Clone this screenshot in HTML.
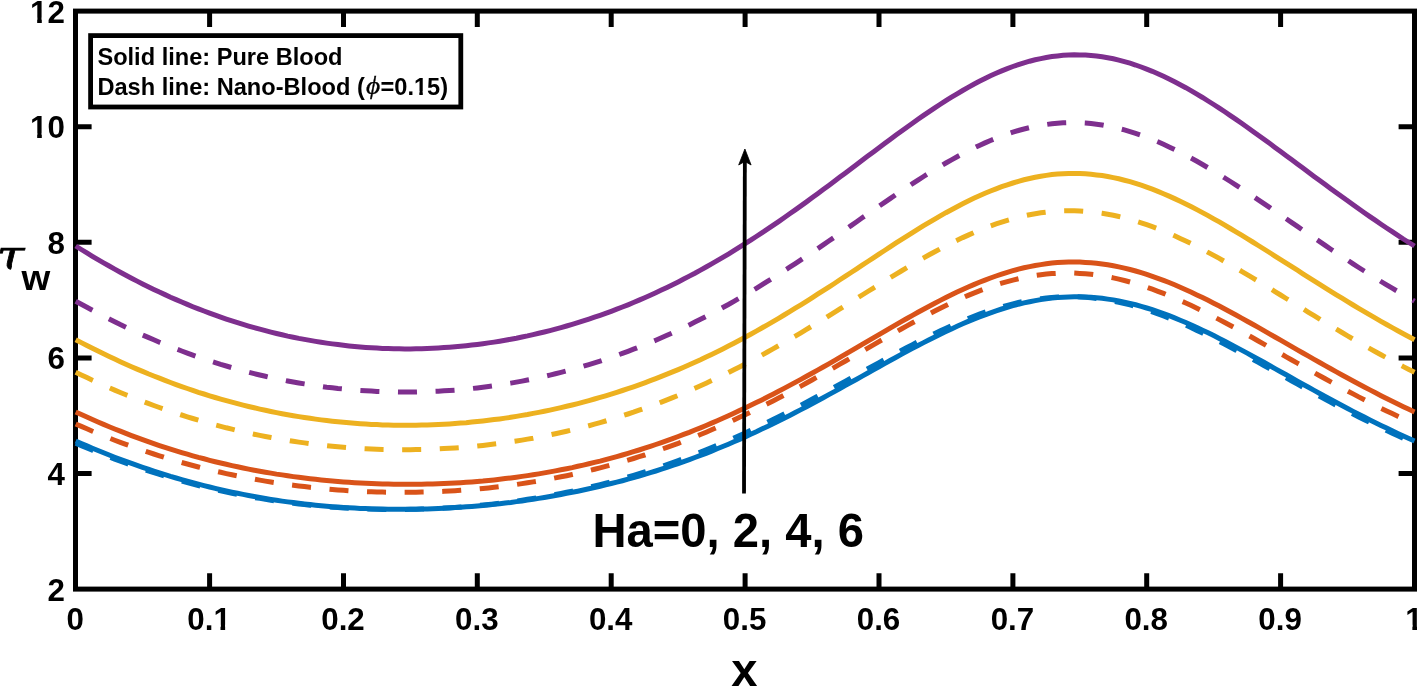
<!DOCTYPE html>
<html><head><meta charset="utf-8"><title>Wall shear stress</title>
<style>
html,body{margin:0;padding:0;background:#fff;}
svg{display:block;}
text{font-family:"Liberation Sans",Arial,sans-serif;font-weight:bold;fill:#000;}
.tk{font-size:31.3px;}
.lg{font-size:23.6px;}
.big{font-size:47.2px;}
.ph{font-family:"Liberation Serif",serif;font-style:italic;font-weight:normal;font-size:26px;stroke:#000;stroke-width:0.35px;}
.mi{font-family:"DejaVu Serif","Liberation Serif",serif;font-style:italic;font-weight:normal;}
</style></head><body>
<svg width="1418" height="686" viewBox="0 0 1418 686">
<rect x="0" y="0" width="1418" height="686" fill="#fff"/>
<rect x="75.5" y="11.1" width="1339.0" height="578.0" fill="none" stroke="#000" stroke-width="5"/>
<path d="M209.6 589.1 V573.2 M209.6 11.1 V27.0 M343.5 589.1 V573.2 M343.5 11.1 V27.0 M477.3 589.1 V573.2 M477.3 11.1 V27.0 M611.2 589.1 V573.2 M611.2 11.1 V27.0 M745.1 589.1 V573.2 M745.1 11.1 V27.0 M879.0 589.1 V573.2 M879.0 11.1 V27.0 M1012.9 589.1 V573.2 M1012.9 11.1 V27.0 M1146.7 589.1 V573.2 M1146.7 11.1 V27.0 M1280.6 589.1 V573.2 M1280.6 11.1 V27.0 M75.7 473.5 H91.6 M1414.5 473.5 H1398.6 M75.7 357.9 H91.6 M1414.5 357.9 H1398.6 M75.7 242.3 H91.6 M1414.5 242.3 H1398.6 M75.7 126.7 H91.6 M1414.5 126.7 H1398.6" fill="none" stroke="#000" stroke-width="5"/>
<text class="tk" transform="translate(64.9 600.5) scale(1 1)" text-anchor="end">2</text>
<text class="tk" transform="translate(64.9 484.9) scale(1 1)" text-anchor="end">4</text>
<text class="tk" transform="translate(64.9 369.3) scale(1 1)" text-anchor="end">6</text>
<text class="tk" transform="translate(64.9 253.7) scale(1 1)" text-anchor="end">8</text>
<text class="tk" transform="translate(64.9 138.1) scale(1 1)" text-anchor="end">10</text>
<path d="M31.03 133.09 H37.17 V139.04 H31.03 Z M41.80 133.09 H47.62 V139.04 H41.80 Z" fill="#fff"/>
<text class="tk" transform="translate(64.9 22.5) scale(1 1)" text-anchor="end">12</text>
<path d="M31.03 17.49 H37.17 V23.44 H31.03 Z M41.80 17.49 H47.62 V23.44 H41.80 Z" fill="#fff"/>
<text class="tk" transform="translate(75.2 629.7) scale(1 1)" text-anchor="middle">0</text>
<text class="tk" transform="translate(209.1 629.7) scale(1 1)" text-anchor="middle">0.1</text>
<path d="M214.37 624.69 H220.50 V630.64 H214.37 Z M225.14 624.69 H230.96 V630.64 H225.14 Z" fill="#fff"/>
<text class="tk" transform="translate(343.0 629.7) scale(1 1)" text-anchor="middle">0.2</text>
<text class="tk" transform="translate(476.8 629.7) scale(1 1)" text-anchor="middle">0.3</text>
<text class="tk" transform="translate(610.7 629.7) scale(1 1)" text-anchor="middle">0.4</text>
<text class="tk" transform="translate(744.6 629.7) scale(1 1)" text-anchor="middle">0.5</text>
<text class="tk" transform="translate(878.5 629.7) scale(1 1)" text-anchor="middle">0.6</text>
<text class="tk" transform="translate(1012.4 629.7) scale(1 1)" text-anchor="middle">0.7</text>
<text class="tk" transform="translate(1146.2 629.7) scale(1 1)" text-anchor="middle">0.8</text>
<text class="tk" transform="translate(1280.1 629.7) scale(1 1)" text-anchor="middle">0.9</text>
<text class="tk" transform="translate(1414.0 629.7) scale(1 1)" text-anchor="middle">1</text>
<path d="M1406.24 624.69 H1412.37 V630.64 H1406.24 Z M1417.00 624.69 H1422.83 V630.64 H1417.00 Z" fill="#fff"/>
<path d="M75.7 441.0 L81.3 443.5 L86.9 445.9 L92.4 448.2 L98.0 450.5 L103.6 452.8 L109.2 455.0 L114.7 457.2 L120.3 459.3 L125.9 461.4 L131.5 463.4 L137.1 465.4 L142.6 467.3 L148.2 469.2 L153.8 471.1 L159.4 472.9 L165.0 474.6 L170.5 476.4 L176.1 478.0 L181.7 479.6 L187.3 481.2 L192.8 482.7 L198.4 484.2 L204.0 485.6 L209.6 487.0 L215.2 488.4 L220.7 489.7 L226.3 490.9 L231.9 492.1 L237.5 493.3 L243.1 494.4 L248.6 495.5 L254.2 496.5 L259.8 497.5 L265.4 498.5 L270.9 499.4 L276.5 500.3 L282.1 501.1 L287.7 501.9 L293.3 502.6 L298.8 503.3 L304.4 504.0 L310.0 504.6 L315.6 505.2 L321.1 505.7 L326.7 506.2 L332.3 506.7 L337.9 507.1 L343.5 507.5 L349.0 507.8 L354.6 508.1 L360.2 508.4 L365.8 508.6 L371.4 508.9 L376.9 509.0 L382.5 509.1 L388.1 509.2 L393.7 509.3 L399.2 509.3 L404.8 509.3 L410.4 509.3 L416.0 509.2 L421.6 509.1 L427.1 508.9 L432.7 508.7 L438.3 508.5 L443.9 508.2 L449.4 507.9 L455.0 507.6 L460.6 507.2 L466.2 506.8 L471.8 506.4 L477.3 505.9 L482.9 505.4 L488.5 504.9 L494.1 504.3 L499.7 503.7 L505.2 503.0 L510.8 502.4 L516.4 501.6 L522.0 500.9 L527.5 500.1 L533.1 499.2 L538.7 498.4 L544.3 497.5 L549.9 496.5 L555.4 495.5 L561.0 494.5 L566.6 493.4 L572.2 492.3 L577.8 491.2 L583.3 490.0 L588.9 488.8 L594.5 487.6 L600.1 486.3 L605.6 484.9 L611.2 483.5 L616.8 482.1 L622.4 480.7 L628.0 479.2 L633.5 477.6 L639.1 476.0 L644.7 474.4 L650.3 472.7 L655.8 471.0 L661.4 469.2 L667.0 467.4 L672.6 465.5 L678.2 463.6 L683.7 461.6 L689.3 459.6 L694.9 457.5 L700.5 455.4 L706.1 453.3 L711.6 451.1 L717.2 448.8 L722.8 446.5 L728.4 444.2 L733.9 441.8 L739.5 439.4 L745.1 436.9 L750.7 434.3 L756.3 431.8 L761.8 429.1 L767.4 426.5 L773.0 423.7 L778.6 421.0 L784.1 418.2 L789.7 415.4 L795.3 412.5 L800.9 409.6 L806.5 406.7 L812.0 403.7 L817.6 400.7 L823.2 397.7 L828.8 394.6 L834.4 391.6 L839.9 388.5 L845.5 385.4 L851.1 382.3 L856.7 379.2 L862.2 376.1 L867.8 373.0 L873.4 369.8 L879.0 366.7 L884.6 363.6 L890.1 360.5 L895.7 357.5 L901.3 354.4 L906.9 351.4 L912.5 348.4 L918.0 345.5 L923.6 342.6 L929.2 339.7 L934.8 336.9 L940.3 334.2 L945.9 331.5 L951.5 328.9 L957.1 326.3 L962.7 323.8 L968.2 321.4 L973.8 319.1 L979.4 316.9 L985.0 314.8 L990.5 312.8 L996.1 310.8 L1001.7 309.0 L1007.3 307.3 L1012.9 305.7 L1018.4 304.2 L1024.0 302.9 L1029.6 301.7 L1035.2 300.6 L1040.8 299.6 L1046.3 298.8 L1051.9 298.1 L1057.5 297.6 L1063.1 297.2 L1068.6 296.9 L1074.2 296.8 L1079.8 296.8 L1085.4 297.0 L1091.0 297.3 L1096.5 297.7 L1102.1 298.3 L1107.7 299.1 L1113.3 299.9 L1118.8 301.0 L1124.4 302.1 L1130.0 303.4 L1135.6 304.8 L1141.2 306.3 L1146.7 308.0 L1152.3 309.7 L1157.9 311.6 L1163.5 313.6 L1169.1 315.7 L1174.6 317.9 L1180.2 320.2 L1185.8 322.5 L1191.4 325.0 L1196.9 327.5 L1202.5 330.2 L1208.1 332.8 L1213.7 335.6 L1219.3 338.4 L1224.8 341.3 L1230.4 344.2 L1236.0 347.1 L1241.6 350.1 L1247.2 353.1 L1252.7 356.2 L1258.3 359.2 L1263.9 362.3 L1269.5 365.5 L1275.0 368.6 L1280.6 371.7 L1286.2 374.8 L1291.8 378.0 L1297.4 381.1 L1302.9 384.2 L1308.5 387.3 L1314.1 390.4 L1319.7 393.5 L1325.2 396.5 L1330.8 399.5 L1336.4 402.5 L1342.0 405.5 L1347.6 408.5 L1353.1 411.4 L1358.7 414.3 L1364.3 417.1 L1369.9 419.9 L1375.5 422.7 L1381.0 425.4 L1386.6 428.1 L1392.2 430.8 L1397.8 433.4 L1403.3 436.0 L1408.9 438.5 L1414.5 441.0" fill="none" stroke="#0072BD" stroke-width="5"/>
<path d="M75.7 443.2 L81.3 445.6 L86.9 448.0 L92.4 450.3 L98.0 452.5 L103.6 454.8 L109.2 456.9 L114.7 459.1 L120.3 461.1 L125.9 463.2 L131.5 465.2 L137.1 467.1 L142.6 469.0 L148.2 470.9 L153.8 472.7 L159.4 474.4 L165.0 476.1 L170.5 477.8 L176.1 479.4 L181.7 481.0 L187.3 482.6 L192.8 484.0 L198.4 485.5 L204.0 486.9 L209.6 488.2 L215.2 489.5 L220.7 490.8 L226.3 492.0 L231.9 493.2 L237.5 494.3 L243.1 495.4 L248.6 496.5 L254.2 497.5 L259.8 498.4 L265.4 499.3 L270.9 500.2 L276.5 501.1 L282.1 501.8 L287.7 502.6 L293.3 503.3 L298.8 504.0 L304.4 504.6 L310.0 505.2 L315.6 505.7 L321.1 506.3 L326.7 506.7 L332.3 507.2 L337.9 507.6 L343.5 507.9 L349.0 508.2 L354.6 508.5 L360.2 508.8 L365.8 509.0 L371.4 509.1 L376.9 509.3 L382.5 509.4 L388.1 509.4 L393.7 509.5 L399.2 509.5 L404.8 509.4 L410.4 509.3 L416.0 509.2 L421.6 509.1 L427.1 508.9 L432.7 508.7 L438.3 508.4 L443.9 508.1 L449.4 507.8 L455.0 507.4 L460.6 507.0 L466.2 506.6 L471.8 506.1 L477.3 505.6 L482.9 505.1 L488.5 504.5 L494.1 503.9 L499.7 503.2 L505.2 502.5 L510.8 501.8 L516.4 501.0 L522.0 500.2 L527.5 499.3 L533.1 498.4 L538.7 497.5 L544.3 496.5 L549.9 495.5 L555.4 494.5 L561.0 493.4 L566.6 492.2 L572.2 491.1 L577.8 489.9 L583.3 488.6 L588.9 487.3 L594.5 486.0 L600.1 484.6 L605.6 483.2 L611.2 481.7 L616.8 480.2 L622.4 478.6 L628.0 477.0 L633.5 475.4 L639.1 473.7 L644.7 471.9 L650.3 470.2 L655.8 468.3 L661.4 466.5 L667.0 464.5 L672.6 462.6 L678.2 460.6 L683.7 458.5 L689.3 456.4 L694.9 454.3 L700.5 452.1 L706.1 449.8 L711.6 447.5 L717.2 445.2 L722.8 442.8 L728.4 440.4 L733.9 438.0 L739.5 435.5 L745.1 432.9 L750.7 430.3 L756.3 427.7 L761.8 425.0 L767.4 422.3 L773.0 419.5 L778.6 416.7 L784.1 413.9 L789.7 411.1 L795.3 408.2 L800.9 405.3 L806.5 402.3 L812.0 399.3 L817.6 396.3 L823.2 393.3 L828.8 390.3 L834.4 387.2 L839.9 384.2 L845.5 381.1 L851.1 378.0 L856.7 374.9 L862.2 371.8 L867.8 368.7 L873.4 365.6 L879.0 362.6 L884.6 359.5 L890.1 356.5 L895.7 353.5 L901.3 350.5 L906.9 347.5 L912.5 344.6 L918.0 341.7 L923.6 338.9 L929.2 336.1 L934.8 333.4 L940.3 330.7 L945.9 328.2 L951.5 325.6 L957.1 323.2 L962.7 320.8 L968.2 318.5 L973.8 316.3 L979.4 314.2 L985.0 312.2 L990.5 310.3 L996.1 308.5 L1001.7 306.9 L1007.3 305.3 L1012.9 303.9 L1018.4 302.5 L1024.0 301.3 L1029.6 300.3 L1035.2 299.4 L1040.8 298.6 L1046.3 297.9 L1051.9 297.4 L1057.5 297.0 L1063.1 296.8 L1068.6 296.7 L1074.2 296.7 L1079.8 296.9 L1085.4 297.3 L1091.0 297.8 L1096.5 298.4 L1102.1 299.1 L1107.7 300.0 L1113.3 301.1 L1118.8 302.2 L1124.4 303.5 L1130.0 304.9 L1135.6 306.5 L1141.2 308.1 L1146.7 309.9 L1152.3 311.8 L1157.9 313.8 L1163.5 315.9 L1169.1 318.1 L1174.6 320.4 L1180.2 322.8 L1185.8 325.2 L1191.4 327.7 L1196.9 330.4 L1202.5 333.0 L1208.1 335.8 L1213.7 338.6 L1219.3 341.4 L1224.8 344.3 L1230.4 347.3 L1236.0 350.2 L1241.6 353.2 L1247.2 356.3 L1252.7 359.3 L1258.3 362.4 L1263.9 365.5 L1269.5 368.6 L1275.0 371.7 L1280.6 374.8 L1286.2 377.9 L1291.8 381.0 L1297.4 384.1 L1302.9 387.2 L1308.5 390.3 L1314.1 393.4 L1319.7 396.4 L1325.2 399.4 L1330.8 402.4 L1336.4 405.4 L1342.0 408.3 L1347.6 411.2 L1353.1 414.1 L1358.7 416.9 L1364.3 419.7 L1369.9 422.5 L1375.5 425.2 L1381.0 427.9 L1386.6 430.6 L1392.2 433.2 L1397.8 435.8 L1403.3 438.3 L1408.9 440.8 L1414.5 443.2" fill="none" stroke="#0072BD" stroke-width="5" stroke-dasharray="19.03 18.58"/>
<path d="M75.7 411.9 L81.3 414.5 L86.9 417.0 L92.4 419.5 L98.0 422.0 L103.6 424.4 L109.2 426.7 L114.7 429.0 L120.3 431.2 L125.9 433.4 L131.5 435.6 L137.1 437.7 L142.6 439.7 L148.2 441.7 L153.8 443.7 L159.4 445.6 L165.0 447.4 L170.5 449.2 L176.1 450.9 L181.7 452.6 L187.3 454.2 L192.8 455.8 L198.4 457.4 L204.0 458.8 L209.6 460.3 L215.2 461.7 L220.7 463.0 L226.3 464.3 L231.9 465.6 L237.5 466.8 L243.1 468.0 L248.6 469.1 L254.2 470.2 L259.8 471.2 L265.4 472.2 L270.9 473.1 L276.5 474.1 L282.1 474.9 L287.7 475.8 L293.3 476.6 L298.8 477.3 L304.4 478.0 L310.0 478.7 L315.6 479.3 L321.1 479.9 L326.7 480.5 L332.3 481.0 L337.9 481.5 L343.5 481.9 L349.0 482.3 L354.6 482.7 L360.2 483.0 L365.8 483.3 L371.4 483.6 L376.9 483.8 L382.5 484.0 L388.1 484.1 L393.7 484.2 L399.2 484.3 L404.8 484.3 L410.4 484.3 L416.0 484.3 L421.6 484.2 L427.1 484.1 L432.7 484.0 L438.3 483.8 L443.9 483.6 L449.4 483.3 L455.0 483.0 L460.6 482.7 L466.2 482.3 L471.8 481.9 L477.3 481.4 L482.9 481.0 L488.5 480.4 L494.1 479.9 L499.7 479.3 L505.2 478.6 L510.8 477.9 L516.4 477.2 L522.0 476.4 L527.5 475.6 L533.1 474.8 L538.7 473.9 L544.3 472.9 L549.9 471.9 L555.4 470.9 L561.0 469.8 L566.6 468.7 L572.2 467.6 L577.8 466.3 L583.3 465.1 L588.9 463.8 L594.5 462.4 L600.1 461.1 L605.6 459.6 L611.2 458.1 L616.8 456.6 L622.4 455.0 L628.0 453.4 L633.5 451.7 L639.1 450.0 L644.7 448.2 L650.3 446.4 L655.8 444.5 L661.4 442.6 L667.0 440.6 L672.6 438.6 L678.2 436.5 L683.7 434.4 L689.3 432.3 L694.9 430.0 L700.5 427.8 L706.1 425.5 L711.6 423.1 L717.2 420.7 L722.8 418.3 L728.4 415.8 L733.9 413.2 L739.5 410.6 L745.1 408.0 L750.7 405.3 L756.3 402.6 L761.8 399.9 L767.4 397.1 L773.0 394.2 L778.6 391.3 L784.1 388.4 L789.7 385.4 L795.3 382.4 L800.9 379.4 L806.5 376.3 L812.0 373.2 L817.6 370.1 L823.2 367.0 L828.8 363.8 L834.4 360.6 L839.9 357.4 L845.5 354.1 L851.1 350.9 L856.7 347.6 L862.2 344.4 L867.8 341.1 L873.4 337.8 L879.0 334.6 L884.6 331.3 L890.1 328.1 L895.7 324.9 L901.3 321.7 L906.9 318.5 L912.5 315.4 L918.0 312.3 L923.6 309.2 L929.2 306.2 L934.8 303.3 L940.3 300.4 L945.9 297.6 L951.5 294.8 L957.1 292.1 L962.7 289.5 L968.2 287.0 L973.8 284.6 L979.4 282.3 L985.0 280.1 L990.5 278.0 L996.1 276.0 L1001.7 274.1 L1007.3 272.3 L1012.9 270.7 L1018.4 269.2 L1024.0 267.8 L1029.6 266.6 L1035.2 265.5 L1040.8 264.6 L1046.3 263.8 L1051.9 263.1 L1057.5 262.6 L1063.1 262.3 L1068.6 262.1 L1074.2 262.0 L1079.8 262.1 L1085.4 262.4 L1091.0 262.8 L1096.5 263.3 L1102.1 264.0 L1107.7 264.8 L1113.3 265.8 L1118.8 266.9 L1124.4 268.1 L1130.0 269.5 L1135.6 271.0 L1141.2 272.7 L1146.7 274.4 L1152.3 276.3 L1157.9 278.3 L1163.5 280.4 L1169.1 282.5 L1174.6 284.8 L1180.2 287.2 L1185.8 289.7 L1191.4 292.2 L1196.9 294.9 L1202.5 297.6 L1208.1 300.3 L1213.7 303.2 L1219.3 306.0 L1224.8 309.0 L1230.4 312.0 L1236.0 315.0 L1241.6 318.1 L1247.2 321.2 L1252.7 324.3 L1258.3 327.4 L1263.9 330.6 L1269.5 333.8 L1275.0 337.0 L1280.6 340.2 L1286.2 343.4 L1291.8 346.6 L1297.4 349.8 L1302.9 353.0 L1308.5 356.2 L1314.1 359.4 L1319.7 362.5 L1325.2 365.7 L1330.8 368.8 L1336.4 371.9 L1342.0 375.0 L1347.6 378.0 L1353.1 381.0 L1358.7 384.0 L1364.3 387.0 L1369.9 389.9 L1375.5 392.8 L1381.0 395.7 L1386.6 398.5 L1392.2 401.2 L1397.8 404.0 L1403.3 406.7 L1408.9 409.3 L1414.5 411.9" fill="none" stroke="#D95319" stroke-width="5"/>
<path d="M75.7 424.0 L81.3 426.4 L86.9 428.8 L92.4 431.2 L98.0 433.5 L103.6 435.8 L109.2 438.0 L114.7 440.2 L120.3 442.3 L125.9 444.4 L131.5 446.4 L137.1 448.4 L142.6 450.3 L148.2 452.2 L153.8 454.0 L159.4 455.8 L165.0 457.6 L170.5 459.2 L176.1 460.9 L181.7 462.5 L187.3 464.0 L192.8 465.5 L198.4 467.0 L204.0 468.4 L209.6 469.7 L215.2 471.1 L220.7 472.3 L226.3 473.6 L231.9 474.8 L237.5 475.9 L243.1 477.0 L248.6 478.1 L254.2 479.1 L259.8 480.1 L265.4 481.1 L270.9 482.0 L276.5 482.8 L282.1 483.7 L287.7 484.5 L293.3 485.2 L298.8 485.9 L304.4 486.6 L310.0 487.3 L315.6 487.9 L321.1 488.4 L326.7 488.9 L332.3 489.4 L337.9 489.9 L343.5 490.3 L349.0 490.7 L354.6 491.0 L360.2 491.3 L365.8 491.6 L371.4 491.8 L376.9 492.0 L382.5 492.1 L388.1 492.2 L393.7 492.3 L399.2 492.3 L404.8 492.3 L410.4 492.3 L416.0 492.2 L421.6 492.1 L427.1 492.0 L432.7 491.8 L438.3 491.6 L443.9 491.3 L449.4 491.0 L455.0 490.7 L460.6 490.3 L466.2 489.9 L471.8 489.5 L477.3 489.0 L482.9 488.4 L488.5 487.9 L494.1 487.3 L499.7 486.6 L505.2 485.9 L510.8 485.2 L516.4 484.5 L522.0 483.6 L527.5 482.8 L533.1 481.9 L538.7 481.0 L544.3 480.0 L549.9 479.0 L555.4 477.9 L561.0 476.8 L566.6 475.7 L572.2 474.5 L577.8 473.3 L583.3 472.0 L588.9 470.7 L594.5 469.3 L600.1 467.9 L605.6 466.4 L611.2 464.9 L616.8 463.4 L622.4 461.8 L628.0 460.2 L633.5 458.5 L639.1 456.7 L644.7 455.0 L650.3 453.1 L655.8 451.2 L661.4 449.3 L667.0 447.3 L672.6 445.3 L678.2 443.3 L683.7 441.1 L689.3 439.0 L694.9 436.8 L700.5 434.5 L706.1 432.2 L711.6 429.8 L717.2 427.4 L722.8 425.0 L728.4 422.5 L733.9 419.9 L739.5 417.3 L745.1 414.7 L750.7 412.0 L756.3 409.3 L761.8 406.5 L767.4 403.7 L773.0 400.9 L778.6 398.0 L784.1 395.1 L789.7 392.1 L795.3 389.1 L800.9 386.1 L806.5 383.0 L812.0 380.0 L817.6 376.8 L823.2 373.7 L828.8 370.6 L834.4 367.4 L839.9 364.2 L845.5 361.0 L851.1 357.8 L856.7 354.5 L862.2 351.3 L867.8 348.1 L873.4 344.9 L879.0 341.6 L884.6 338.4 L890.1 335.3 L895.7 332.1 L901.3 329.0 L906.9 325.9 L912.5 322.8 L918.0 319.8 L923.6 316.8 L929.2 313.9 L934.8 311.0 L940.3 308.2 L945.9 305.5 L951.5 302.8 L957.1 300.3 L962.7 297.8 L968.2 295.4 L973.8 293.1 L979.4 290.9 L985.0 288.8 L990.5 286.8 L996.1 284.9 L1001.7 283.2 L1007.3 281.6 L1012.9 280.1 L1018.4 278.8 L1024.0 277.5 L1029.6 276.5 L1035.2 275.5 L1040.8 274.7 L1046.3 274.1 L1051.9 273.6 L1057.5 273.3 L1063.1 273.1 L1068.6 273.0 L1074.2 273.1 L1079.8 273.4 L1085.4 273.8 L1091.0 274.3 L1096.5 275.0 L1102.1 275.8 L1107.7 276.8 L1113.3 277.9 L1118.8 279.1 L1124.4 280.5 L1130.0 282.0 L1135.6 283.6 L1141.2 285.4 L1146.7 287.2 L1152.3 289.2 L1157.9 291.3 L1163.5 293.4 L1169.1 295.7 L1174.6 298.0 L1180.2 300.5 L1185.8 303.0 L1191.4 305.6 L1196.9 308.3 L1202.5 311.0 L1208.1 313.8 L1213.7 316.7 L1219.3 319.6 L1224.8 322.5 L1230.4 325.5 L1236.0 328.5 L1241.6 331.6 L1247.2 334.7 L1252.7 337.8 L1258.3 341.0 L1263.9 344.1 L1269.5 347.3 L1275.0 350.4 L1280.6 353.6 L1286.2 356.8 L1291.8 360.0 L1297.4 363.2 L1302.9 366.3 L1308.5 369.5 L1314.1 372.6 L1319.7 375.7 L1325.2 378.8 L1330.8 381.9 L1336.4 384.9 L1342.0 388.0 L1347.6 391.0 L1353.1 393.9 L1358.7 396.9 L1364.3 399.7 L1369.9 402.6 L1375.5 405.4 L1381.0 408.2 L1386.6 410.9 L1392.2 413.6 L1397.8 416.3 L1403.3 418.9 L1408.9 421.5 L1414.5 424.0" fill="none" stroke="#D95319" stroke-width="5" stroke-dasharray="19.03 18.58"/>
<path d="M75.7 339.7 L81.3 342.6 L86.9 345.5 L92.4 348.3 L98.0 351.1 L103.6 353.8 L109.2 356.5 L114.7 359.1 L120.3 361.7 L125.9 364.2 L131.5 366.7 L137.1 369.1 L142.6 371.4 L148.2 373.8 L153.8 376.0 L159.4 378.2 L165.0 380.4 L170.5 382.5 L176.1 384.6 L181.7 386.6 L187.3 388.5 L192.8 390.4 L198.4 392.3 L204.0 394.0 L209.6 395.8 L215.2 397.5 L220.7 399.1 L226.3 400.7 L231.9 402.2 L237.5 403.7 L243.1 405.1 L248.6 406.5 L254.2 407.8 L259.8 409.1 L265.4 410.3 L270.9 411.5 L276.5 412.6 L282.1 413.7 L287.7 414.7 L293.3 415.7 L298.8 416.6 L304.4 417.5 L310.0 418.3 L315.6 419.1 L321.1 419.9 L326.7 420.6 L332.3 421.2 L337.9 421.8 L343.5 422.3 L349.0 422.8 L354.6 423.3 L360.2 423.7 L365.8 424.1 L371.4 424.4 L376.9 424.6 L382.5 424.9 L388.1 425.0 L393.7 425.2 L399.2 425.2 L404.8 425.3 L410.4 425.3 L416.0 425.2 L421.6 425.1 L427.1 425.0 L432.7 424.8 L438.3 424.5 L443.9 424.2 L449.4 423.9 L455.0 423.5 L460.6 423.1 L466.2 422.7 L471.8 422.1 L477.3 421.6 L482.9 421.0 L488.5 420.3 L494.1 419.6 L499.7 418.9 L505.2 418.1 L510.8 417.3 L516.4 416.4 L522.0 415.4 L527.5 414.5 L533.1 413.4 L538.7 412.4 L544.3 411.3 L549.9 410.1 L555.4 408.9 L561.0 407.6 L566.6 406.3 L572.2 405.0 L577.8 403.6 L583.3 402.1 L588.9 400.6 L594.5 399.0 L600.1 397.4 L605.6 395.8 L611.2 394.1 L616.8 392.3 L622.4 390.5 L628.0 388.7 L633.5 386.8 L639.1 384.8 L644.7 382.8 L650.3 380.7 L655.8 378.6 L661.4 376.4 L667.0 374.2 L672.6 371.9 L678.2 369.6 L683.7 367.2 L689.3 364.7 L694.9 362.2 L700.5 359.7 L706.1 357.0 L711.6 354.4 L717.2 351.7 L722.8 348.9 L728.4 346.1 L733.9 343.2 L739.5 340.2 L745.1 337.3 L750.7 334.2 L756.3 331.1 L761.8 328.0 L767.4 324.8 L773.0 321.6 L778.6 318.3 L784.1 315.0 L789.7 311.6 L795.3 308.2 L800.9 304.8 L806.5 301.3 L812.0 297.8 L817.6 294.2 L823.2 290.7 L828.8 287.1 L834.4 283.5 L839.9 279.8 L845.5 276.2 L851.1 272.5 L856.7 268.8 L862.2 265.2 L867.8 261.5 L873.4 257.8 L879.0 254.1 L884.6 250.5 L890.1 246.9 L895.7 243.2 L901.3 239.7 L906.9 236.1 L912.5 232.6 L918.0 229.2 L923.6 225.7 L929.2 222.4 L934.8 219.1 L940.3 215.9 L945.9 212.7 L951.5 209.7 L957.1 206.7 L962.7 203.8 L968.2 201.0 L973.8 198.3 L979.4 195.8 L985.0 193.3 L990.5 191.0 L996.1 188.8 L1001.7 186.7 L1007.3 184.8 L1012.9 183.0 L1018.4 181.3 L1024.0 179.8 L1029.6 178.5 L1035.2 177.3 L1040.8 176.2 L1046.3 175.4 L1051.9 174.6 L1057.5 174.1 L1063.1 173.7 L1068.6 173.5 L1074.2 173.4 L1079.8 173.5 L1085.4 173.8 L1091.0 174.3 L1096.5 174.9 L1102.1 175.6 L1107.7 176.5 L1113.3 177.6 L1118.8 178.8 L1124.4 180.2 L1130.0 181.7 L1135.6 183.4 L1141.2 185.2 L1146.7 187.1 L1152.3 189.2 L1157.9 191.4 L1163.5 193.7 L1169.1 196.1 L1174.6 198.6 L1180.2 201.2 L1185.8 203.9 L1191.4 206.7 L1196.9 209.6 L1202.5 212.6 L1208.1 215.6 L1213.7 218.8 L1219.3 221.9 L1224.8 225.2 L1230.4 228.5 L1236.0 231.8 L1241.6 235.2 L1247.2 238.6 L1252.7 242.0 L1258.3 245.5 L1263.9 249.0 L1269.5 252.5 L1275.0 256.1 L1280.6 259.6 L1286.2 263.1 L1291.8 266.7 L1297.4 270.2 L1302.9 273.8 L1308.5 277.3 L1314.1 280.8 L1319.7 284.3 L1325.2 287.8 L1330.8 291.3 L1336.4 294.8 L1342.0 298.2 L1347.6 301.6 L1353.1 305.0 L1358.7 308.3 L1364.3 311.6 L1369.9 314.9 L1375.5 318.1 L1381.0 321.3 L1386.6 324.5 L1392.2 327.6 L1397.8 330.7 L1403.3 333.7 L1408.9 336.7 L1414.5 339.7" fill="none" stroke="#EDB120" stroke-width="5"/>
<path d="M75.7 372.2 L81.3 374.9 L86.9 377.6 L92.4 380.2 L98.0 382.7 L103.6 385.2 L109.2 387.7 L114.7 390.1 L120.3 392.5 L125.9 394.8 L131.5 397.0 L137.1 399.2 L142.6 401.3 L148.2 403.4 L153.8 405.5 L159.4 407.5 L165.0 409.4 L170.5 411.4 L176.1 413.2 L181.7 415.0 L187.3 416.8 L192.8 418.5 L198.4 420.2 L204.0 421.8 L209.6 423.3 L215.2 424.9 L220.7 426.3 L226.3 427.8 L231.9 429.1 L237.5 430.5 L243.1 431.8 L248.6 433.0 L254.2 434.2 L259.8 435.4 L265.4 436.5 L270.9 437.5 L276.5 438.5 L282.1 439.5 L287.7 440.4 L293.3 441.3 L298.8 442.1 L304.4 442.9 L310.0 443.7 L315.6 444.4 L321.1 445.0 L326.7 445.6 L332.3 446.2 L337.9 446.7 L343.5 447.2 L349.0 447.7 L354.6 448.1 L360.2 448.4 L365.8 448.7 L371.4 449.0 L376.9 449.2 L382.5 449.4 L388.1 449.5 L393.7 449.6 L399.2 449.7 L404.8 449.7 L410.4 449.7 L416.0 449.6 L421.6 449.5 L427.1 449.4 L432.7 449.2 L438.3 448.9 L443.9 448.6 L449.4 448.3 L455.0 447.9 L460.6 447.5 L466.2 447.1 L471.8 446.6 L477.3 446.0 L482.9 445.4 L488.5 444.8 L494.1 444.1 L499.7 443.4 L505.2 442.7 L510.8 441.8 L516.4 441.0 L522.0 440.1 L527.5 439.1 L533.1 438.2 L538.7 437.1 L544.3 436.0 L549.9 434.9 L555.4 433.7 L561.0 432.5 L566.6 431.2 L572.2 429.9 L577.8 428.5 L583.3 427.1 L588.9 425.7 L594.5 424.2 L600.1 422.6 L605.6 421.0 L611.2 419.3 L616.8 417.6 L622.4 415.8 L628.0 414.0 L633.5 412.2 L639.1 410.2 L644.7 408.3 L650.3 406.2 L655.8 404.2 L661.4 402.1 L667.0 399.9 L672.6 397.7 L678.2 395.4 L683.7 393.0 L689.3 390.7 L694.9 388.2 L700.5 385.7 L706.1 383.2 L711.6 380.6 L717.2 378.0 L722.8 375.3 L728.4 372.5 L733.9 369.7 L739.5 366.9 L745.1 364.0 L750.7 361.1 L756.3 358.1 L761.8 355.1 L767.4 352.0 L773.0 348.9 L778.6 345.7 L784.1 342.5 L789.7 339.3 L795.3 336.1 L800.9 332.8 L806.5 329.4 L812.0 326.1 L817.6 322.7 L823.2 319.3 L828.8 315.8 L834.4 312.4 L839.9 308.9 L845.5 305.5 L851.1 302.0 L856.7 298.5 L862.2 295.0 L867.8 291.5 L873.4 288.1 L879.0 284.6 L884.6 281.2 L890.1 277.7 L895.7 274.3 L901.3 271.0 L906.9 267.6 L912.5 264.4 L918.0 261.1 L923.6 257.9 L929.2 254.8 L934.8 251.8 L940.3 248.8 L945.9 245.9 L951.5 243.0 L957.1 240.3 L962.7 237.6 L968.2 235.1 L973.8 232.6 L979.4 230.3 L985.0 228.0 L990.5 225.9 L996.1 223.9 L1001.7 222.1 L1007.3 220.3 L1012.9 218.7 L1018.4 217.2 L1024.0 215.9 L1029.6 214.7 L1035.2 213.7 L1040.8 212.8 L1046.3 212.1 L1051.9 211.5 L1057.5 211.1 L1063.1 210.8 L1068.6 210.7 L1074.2 210.7 L1079.8 210.9 L1085.4 211.3 L1091.0 211.8 L1096.5 212.4 L1102.1 213.2 L1107.7 214.2 L1113.3 215.2 L1118.8 216.5 L1124.4 217.8 L1130.0 219.4 L1135.6 221.0 L1141.2 222.8 L1146.7 224.7 L1152.3 226.7 L1157.9 228.8 L1163.5 231.0 L1169.1 233.4 L1174.6 235.8 L1180.2 238.4 L1185.8 241.0 L1191.4 243.7 L1196.9 246.5 L1202.5 249.4 L1208.1 252.4 L1213.7 255.4 L1219.3 258.4 L1224.8 261.6 L1230.4 264.8 L1236.0 268.0 L1241.6 271.3 L1247.2 274.6 L1252.7 277.9 L1258.3 281.3 L1263.9 284.7 L1269.5 288.2 L1275.0 291.6 L1280.6 295.0 L1286.2 298.5 L1291.8 301.9 L1297.4 305.4 L1302.9 308.8 L1308.5 312.3 L1314.1 315.7 L1319.7 319.1 L1325.2 322.5 L1330.8 325.9 L1336.4 329.2 L1342.0 332.5 L1347.6 335.8 L1353.1 339.1 L1358.7 342.3 L1364.3 345.5 L1369.9 348.6 L1375.5 351.7 L1381.0 354.8 L1386.6 357.8 L1392.2 360.8 L1397.8 363.7 L1403.3 366.6 L1408.9 369.4 L1414.5 372.2" fill="none" stroke="#EDB120" stroke-width="5" stroke-dasharray="19.03 18.58"/>
<path d="M75.7 246.0 L81.3 249.5 L86.9 252.9 L92.4 256.3 L98.0 259.6 L103.6 262.8 L109.2 266.0 L114.7 269.1 L120.3 272.2 L125.9 275.2 L131.5 278.2 L137.1 281.1 L142.6 283.9 L148.2 286.7 L153.8 289.4 L159.4 292.1 L165.0 294.6 L170.5 297.2 L176.1 299.6 L181.7 302.0 L187.3 304.4 L192.8 306.7 L198.4 308.9 L204.0 311.0 L209.6 313.1 L215.2 315.2 L220.7 317.2 L226.3 319.1 L231.9 320.9 L237.5 322.7 L243.1 324.4 L248.6 326.1 L254.2 327.7 L259.8 329.2 L265.4 330.7 L270.9 332.1 L276.5 333.5 L282.1 334.8 L287.7 336.1 L293.3 337.2 L298.8 338.4 L304.4 339.4 L310.0 340.4 L315.6 341.4 L321.1 342.3 L326.7 343.1 L332.3 343.9 L337.9 344.6 L343.5 345.3 L349.0 345.9 L354.6 346.4 L360.2 346.9 L365.8 347.4 L371.4 347.8 L376.9 348.1 L382.5 348.4 L388.1 348.6 L393.7 348.7 L399.2 348.8 L404.8 348.9 L410.4 348.9 L416.0 348.8 L421.6 348.7 L427.1 348.5 L432.7 348.3 L438.3 348.0 L443.9 347.6 L449.4 347.2 L455.0 346.8 L460.6 346.3 L466.2 345.7 L471.8 345.1 L477.3 344.4 L482.9 343.7 L488.5 342.9 L494.1 342.1 L499.7 341.2 L505.2 340.2 L510.8 339.2 L516.4 338.2 L522.0 337.0 L527.5 335.9 L533.1 334.6 L538.7 333.3 L544.3 332.0 L549.9 330.6 L555.4 329.1 L561.0 327.6 L566.6 326.0 L572.2 324.4 L577.8 322.7 L583.3 320.9 L588.9 319.1 L594.5 317.2 L600.1 315.3 L605.6 313.3 L611.2 311.3 L616.8 309.2 L622.4 307.0 L628.0 304.8 L633.5 302.5 L639.1 300.1 L644.7 297.7 L650.3 295.2 L655.8 292.7 L661.4 290.1 L667.0 287.4 L672.6 284.7 L678.2 281.9 L683.7 279.1 L689.3 276.1 L694.9 273.2 L700.5 270.1 L706.1 267.0 L711.6 263.9 L717.2 260.7 L722.8 257.4 L728.4 254.1 L733.9 250.7 L739.5 247.2 L745.1 243.7 L750.7 240.2 L756.3 236.5 L761.8 232.9 L767.4 229.2 L773.0 225.4 L778.6 221.6 L784.1 217.7 L789.7 213.8 L795.3 209.9 L800.9 205.9 L806.5 201.9 L812.0 197.8 L817.6 193.7 L823.2 189.6 L828.8 185.5 L834.4 181.3 L839.9 177.1 L845.5 172.9 L851.1 168.7 L856.7 164.5 L862.2 160.3 L867.8 156.1 L873.4 151.9 L879.0 147.8 L884.6 143.6 L890.1 139.5 L895.7 135.3 L901.3 131.3 L906.9 127.2 L912.5 123.3 L918.0 119.3 L923.6 115.4 L929.2 111.6 L934.8 107.9 L940.3 104.2 L945.9 100.6 L951.5 97.2 L957.1 93.8 L962.7 90.5 L968.2 87.3 L973.8 84.2 L979.4 81.3 L985.0 78.5 L990.5 75.8 L996.1 73.3 L1001.7 70.9 L1007.3 68.6 L1012.9 66.5 L1018.4 64.6 L1024.0 62.8 L1029.6 61.2 L1035.2 59.8 L1040.8 58.6 L1046.3 57.5 L1051.9 56.6 L1057.5 55.9 L1063.1 55.3 L1068.6 55.0 L1074.2 54.8 L1079.8 54.9 L1085.4 55.1 L1091.0 55.5 L1096.5 56.0 L1102.1 56.8 L1107.7 57.7 L1113.3 58.8 L1118.8 60.1 L1124.4 61.6 L1130.0 63.2 L1135.6 65.0 L1141.2 67.0 L1146.7 69.1 L1152.3 71.3 L1157.9 73.7 L1163.5 76.3 L1169.1 79.0 L1174.6 81.8 L1180.2 84.7 L1185.8 87.7 L1191.4 90.9 L1196.9 94.2 L1202.5 97.5 L1208.1 101.0 L1213.7 104.5 L1219.3 108.1 L1224.8 111.8 L1230.4 115.6 L1236.0 119.4 L1241.6 123.3 L1247.2 127.2 L1252.7 131.2 L1258.3 135.2 L1263.9 139.3 L1269.5 143.3 L1275.0 147.4 L1280.6 151.6 L1286.2 155.7 L1291.8 159.8 L1297.4 164.0 L1302.9 168.1 L1308.5 172.3 L1314.1 176.4 L1319.7 180.5 L1325.2 184.6 L1330.8 188.7 L1336.4 192.8 L1342.0 196.8 L1347.6 200.8 L1353.1 204.8 L1358.7 208.8 L1364.3 212.7 L1369.9 216.6 L1375.5 220.4 L1381.0 224.2 L1386.6 228.0 L1392.2 231.7 L1397.8 235.3 L1403.3 239.0 L1408.9 242.5 L1414.5 246.0" fill="none" stroke="#7E2F8E" stroke-width="5"/>
<path d="M75.7 301.2 L81.3 304.3 L86.9 307.3 L92.4 310.3 L98.0 313.3 L103.6 316.2 L109.2 319.0 L114.7 321.8 L120.3 324.6 L125.9 327.2 L131.5 329.9 L137.1 332.4 L142.6 335.0 L148.2 337.4 L153.8 339.8 L159.4 342.2 L165.0 344.5 L170.5 346.7 L176.1 348.9 L181.7 351.0 L187.3 353.1 L192.8 355.1 L198.4 357.1 L204.0 359.0 L209.6 360.8 L215.2 362.6 L220.7 364.4 L226.3 366.0 L231.9 367.7 L237.5 369.2 L243.1 370.8 L248.6 372.2 L254.2 373.6 L259.8 375.0 L265.4 376.3 L270.9 377.6 L276.5 378.7 L282.1 379.9 L287.7 381.0 L293.3 382.0 L298.8 383.0 L304.4 383.9 L310.0 384.8 L315.6 385.6 L321.1 386.4 L326.7 387.2 L332.3 387.8 L337.9 388.5 L343.5 389.0 L349.0 389.6 L354.6 390.0 L360.2 390.5 L365.8 390.8 L371.4 391.1 L376.9 391.4 L382.5 391.6 L388.1 391.8 L393.7 391.9 L399.2 392.0 L404.8 392.0 L410.4 392.0 L416.0 392.0 L421.6 391.8 L427.1 391.7 L432.7 391.4 L438.3 391.2 L443.9 390.8 L449.4 390.5 L455.0 390.1 L460.6 389.6 L466.2 389.1 L471.8 388.5 L477.3 387.9 L482.9 387.2 L488.5 386.5 L494.1 385.7 L499.7 384.9 L505.2 384.0 L510.8 383.1 L516.4 382.1 L522.0 381.1 L527.5 380.0 L533.1 378.9 L538.7 377.7 L544.3 376.4 L549.9 375.1 L555.4 373.8 L561.0 372.4 L566.6 370.9 L572.2 369.4 L577.8 367.9 L583.3 366.3 L588.9 364.6 L594.5 362.9 L600.1 361.1 L605.6 359.2 L611.2 357.4 L616.8 355.4 L622.4 353.4 L628.0 351.3 L633.5 349.2 L639.1 347.0 L644.7 344.8 L650.3 342.5 L655.8 340.2 L661.4 337.8 L667.0 335.3 L672.6 332.8 L678.2 330.2 L683.7 327.6 L689.3 324.9 L694.9 322.1 L700.5 319.3 L706.1 316.5 L711.6 313.5 L717.2 310.6 L722.8 307.5 L728.4 304.5 L733.9 301.3 L739.5 298.1 L745.1 294.9 L750.7 291.6 L756.3 288.3 L761.8 284.9 L767.4 281.4 L773.0 277.9 L778.6 274.4 L784.1 270.8 L789.7 267.2 L795.3 263.6 L800.9 259.9 L806.5 256.2 L812.0 252.4 L817.6 248.7 L823.2 244.9 L828.8 241.0 L834.4 237.2 L839.9 233.3 L845.5 229.5 L851.1 225.6 L856.7 221.7 L862.2 217.8 L867.8 214.0 L873.4 210.1 L879.0 206.2 L884.6 202.4 L890.1 198.6 L895.7 194.8 L901.3 191.1 L906.9 187.3 L912.5 183.7 L918.0 180.1 L923.6 176.5 L929.2 173.0 L934.8 169.6 L940.3 166.3 L945.9 163.0 L951.5 159.8 L957.1 156.7 L962.7 153.7 L968.2 150.8 L973.8 148.1 L979.4 145.4 L985.0 142.9 L990.5 140.5 L996.1 138.2 L1001.7 136.1 L1007.3 134.1 L1012.9 132.2 L1018.4 130.5 L1024.0 129.0 L1029.6 127.6 L1035.2 126.4 L1040.8 125.3 L1046.3 124.5 L1051.9 123.7 L1057.5 123.2 L1063.1 122.8 L1068.6 122.6 L1074.2 122.6 L1079.8 122.7 L1085.4 123.0 L1091.0 123.5 L1096.5 124.2 L1102.1 125.0 L1107.7 126.0 L1113.3 127.1 L1118.8 128.5 L1124.4 129.9 L1130.0 131.6 L1135.6 133.3 L1141.2 135.2 L1146.7 137.3 L1152.3 139.5 L1157.9 141.8 L1163.5 144.3 L1169.1 146.9 L1174.6 149.5 L1180.2 152.3 L1185.8 155.2 L1191.4 158.2 L1196.9 161.3 L1202.5 164.5 L1208.1 167.8 L1213.7 171.1 L1219.3 174.5 L1224.8 178.0 L1230.4 181.5 L1236.0 185.1 L1241.6 188.7 L1247.2 192.4 L1252.7 196.1 L1258.3 199.8 L1263.9 203.6 L1269.5 207.4 L1275.0 211.2 L1280.6 215.0 L1286.2 218.8 L1291.8 222.6 L1297.4 226.4 L1302.9 230.3 L1308.5 234.1 L1314.1 237.9 L1319.7 241.6 L1325.2 245.4 L1330.8 249.2 L1336.4 252.9 L1342.0 256.6 L1347.6 260.2 L1353.1 263.9 L1358.7 267.5 L1364.3 271.0 L1369.9 274.5 L1375.5 278.0 L1381.0 281.5 L1386.6 284.9 L1392.2 288.2 L1397.8 291.5 L1403.3 294.8 L1408.9 298.0 L1414.5 301.2" fill="none" stroke="#7E2F8E" stroke-width="5" stroke-dasharray="19.03 18.58"/>
<path d="M744.0 493.6 L744.85 160" fill="none" stroke="#000" stroke-width="3.8"/>
<path d="M744.9 149 L751.1 165 L744.9 161.4 L738.7 165 Z" fill="#000" stroke="#000" stroke-width="0.8" stroke-linejoin="round"/>
<text class="big" transform="translate(592.4 547) scale(1 1)">Ha=0, 2, 4, 6</text>
<text class="big" transform="translate(744.3 686.4) scale(1 0.98)" text-anchor="middle">x</text>
<clipPath id="tc"><path d="M-5 240 H32 V257.5 H14.2 L11.6 268 Q11.2 271 8.5 272 H-5 Z"/></clipPath>
<g clip-path="url(#tc)"><text transform="translate(0 269) scale(1.22 1)" x="-2.9" y="0" style="font-size:41.5px;stroke:#000;stroke-width:0.7px" class="mi">τ</text></g>
<text transform="translate(21.6 290) scale(1 0.94)" style="font-size:37px">w</text>
<rect x="90.6" y="35.6" width="370.2" height="71.4" fill="#fff" stroke="#000" stroke-width="4.8"/>
<text class="lg" transform="translate(97.4 64.8)">Solid line: Pure Blood</text>
<text class="lg" transform="translate(97.4 94.8)">Dash line: Nano-Blood (</text>
<text class="ph" transform="translate(366.0 94.4) scale(1.05 1)">ϕ</text>
<text class="lg" transform="translate(380.5 94.8)">=0.15)</text>
<path d="M414.67 91.02 H419.30 V95.51 H414.67 Z M422.79 91.02 H427.18 V95.51 H422.79 Z" fill="#fff"/>
</svg>
</body></html>
